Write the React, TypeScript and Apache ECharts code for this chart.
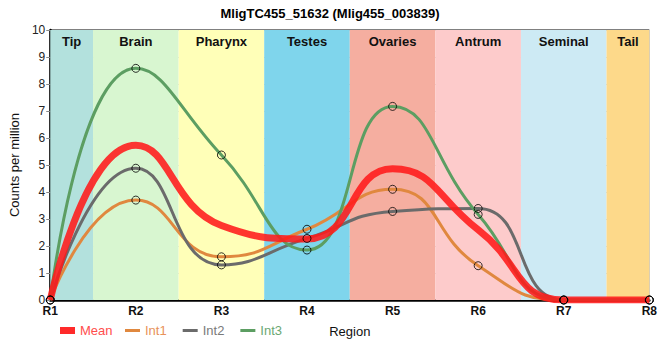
import React, { useEffect, useRef } from "react";
import * as echarts from "echarts";

const positions = [1, 2, 3, 4, 5, 6, 7, 8];
const tickLabels = ["R1", "R2", "R3", "R4", "R5", "R6", "R7", "R8"];
const meanValues = [0, 5.73, 2.76, 2.26, 4.86, 2.6, 0, 0];
const int1Values = [0, 3.7, 1.6, 2.62, 4.1, 1.27, 0, 0];
const int2Values = [0, 4.88, 1.3, 2.28, 3.28, 3.39, 0, 0];
const int3Values = [0, 8.58, 5.37, 1.85, 7.17, 3.17, 0, 0];

const regionNames = ["Tip", "Brain", "Pharynx", "Testes", "Ovaries", "Antrum", "Seminal", "Tail"];
const regionStarts = [1, 1.5, 2.5, 3.5, 4.5, 5.5, 6.5, 7.5];
const regionEnds = [1.5, 2.5, 3.5, 4.5, 5.5, 6.5, 7.5, 8];
const regionColors = ["#b3e1dd", "#d8f6d0", "#ffffb8", "#7fd5ec", "#f5aea0", "#fdcbcb", "#cdeaf4", "#fdd98a"];

const FONT = "Liberation Sans, Arial, sans-serif";

export default function App() {
  const ref = useRef<HTMLDivElement>(null);
  useEffect(() => {
    if (!ref.current) return;
    const chart = echarts.init(ref.current, undefined, { renderer: "svg" });
    const pts = (vals: number[]) => positions.map((x, i) => [x, vals[i]]);
    const lineSeries = (name: string, vals: number[], color: string, width: number, z: number, opacity = 1) => ({
      name,
      type: "line",
      data: pts(vals),
      smooth: 0.5,
      showSymbol: false,
      z,
      lineStyle: { color, width, opacity },
      itemStyle: { color },
    });
    const markerSeries = (vals: number[]) => ({
      name: "_m",
      type: "scatter",
      data: pts(vals),
      symbol: "circle",
      symbolSize: 8,
      z: 10,
      itemStyle: { color: "rgba(0,0,0,0)", borderColor: "#000", borderWidth: 1 },
    });
    chart.setOption({
      animation: false,
      textStyle: { fontFamily: FONT },
      title: {
        text: "MligTC455_51632 (Mlig455_003839)",
        left: "center",
        top: 2,
        textStyle: { fontSize: 13, fontWeight: "bold", color: "#000", fontFamily: FONT },
      },
      grid: {
        left: 50,
        right: 9,
        top: 30,
        bottom: 60,
        show: true,
        borderColor: "#000",
        borderWidth: 1,
        backgroundColor: "rgba(0,0,0,0)",
      },
      legend: [
        {
          data: [{ name: "Mean", itemStyle: { color: "#ff2a2a" }, textStyle: { color: "#ff4d4d" } }],
          left: 55,
          top: 319,
          icon: "rect",
          itemWidth: 15,
          itemHeight: 7,
          itemGap: 5,
          textStyle: { fontSize: 13, fontFamily: FONT },
        },
        {
          data: [
            { name: "Int1", itemStyle: { color: "#e0883f" }, textStyle: { color: "#e8925a" } },
            { name: "Int2", itemStyle: { color: "#6b6b6b" }, textStyle: { color: "#7a7a7a" } },
            { name: "Int3", itemStyle: { color: "#5c9e62" }, textStyle: { color: "#6aa873" } },
          ],
          left: 120,
          top: 319,
          icon: "rect",
          itemWidth: 15,
          itemHeight: 3,
          itemGap: 16,
          textStyle: { fontSize: 13, fontFamily: FONT },
        },
      ],
      xAxis: {
        type: "value",
        min: 1,
        max: 8,
        interval: 1,
        name: "Region",
        nameLocation: "middle",
        nameGap: 25,
        nameTextStyle: { fontSize: 13, color: "#111", fontFamily: FONT },
        axisLine: { show: true, lineStyle: { color: "#000", width: 2.5 } },
        axisTick: { show: false },
        axisLabel: {
          formatter: (v: number) => tickLabels[Math.round(v) - 1] ?? "",
          fontSize: 12,
          fontWeight: "bold",
          color: "#111",
          margin: 5,
        },
        splitLine: { show: true, lineStyle: { color: "#c8c8c8", width: 1 } },
      },
      yAxis: {
        type: "value",
        min: 0,
        max: 10,
        interval: 1,
        name: "Counts per million",
        nameLocation: "middle",
        nameGap: 23,
        nameTextStyle: { fontSize: 13, color: "#111", fontFamily: FONT },
        axisLine: { show: true, lineStyle: { color: "#000", width: 2.5 } },
        axisTick: { show: true, length: 4, lineStyle: { color: "#888" } },
        axisLabel: { fontSize: 12, color: "#222", margin: 5 },
        splitLine: { show: true, lineStyle: { color: "#c8c8c8", width: 1 } },
      },
      series: [
        {
          name: "_bands",
          type: "line",
          data: [],
          z: -1,
          markArea: {
            silent: true,
            label: {
              position: "insideTop",
              distance: 5,
              fontSize: 13,
              fontWeight: "bold",
              color: "#111",
              fontFamily: FONT,
            },
            data: regionNames.map((n, i) => [
              { name: n, xAxis: regionStarts[i], itemStyle: { color: regionColors[i] } },
              { xAxis: regionEnds[i] },
            ]),
          },
        },
        lineSeries("Int1", int1Values, "#e0883f", 3, 3),
        lineSeries("Int2", int2Values, "#6b6b6b", 3, 3),
        lineSeries("Int3", int3Values, "#5c9e62", 3, 3),
        lineSeries("Mean", meanValues, "#ff1a1a", 7, 4, 0.88),
        markerSeries(int1Values),
        markerSeries(int2Values),
        markerSeries(int3Values),
      ],
    });
    return () => chart.dispose();
  }, []);
  return <div ref={ref} style={{ width: 660, height: 360, position: "absolute", left: 0, top: 0 }} />;
}
